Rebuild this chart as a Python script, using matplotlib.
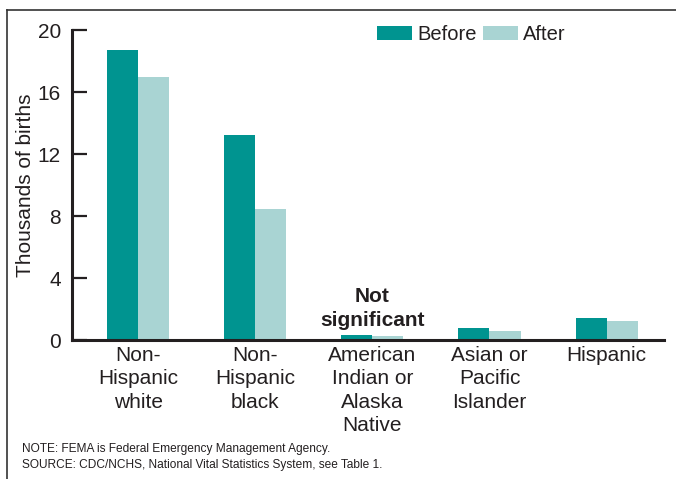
#Births before and after, by race and Hispanic origin

import matplotlib
matplotlib.use("Agg")
import matplotlib.pyplot as plt
from matplotlib.lines import Line2D
import numpy as np

#chart values
groups = ["Non-\nHispanic\nwhite", "Non-\nHispanic\nblack", "American\nIndian or\nAlaska\nNative",
          "Asian or\nPacific\nIslander", "Hispanic"]
before = [18.7, 13.2, 0.3, 0.77, 1.42]
after = [17.0, 8.45, 0.27, 0.58, 1.23]
yticks = [0, 4, 8, 12, 16, 20]

teal = "#009490"
light = "#a9d4d3"
ink = "#231f20"

plt.rcParams['font.family'] = ['Liberation Sans', 'DejaVu Sans']

fig = plt.figure(figsize=(6.76, 4.79), dpi=100)
ax = fig.add_axes([72/676, 1-340/479, (664-72)/676, (340-30)/479])

x = np.arange(len(groups))
w = 0.265
ax.bar(x - w/2, before, w, color=teal, label="Before")
ax.bar(x + w/2, after, w, color=light, label="After")

ax.set_xlim(-0.564, 4.49)
ax.set_ylim(0, 20)
ax.set_yticks(yticks)
ax.set_xticks(x)
ax.set_xticklabels(groups, fontsize=15, color=ink, linespacing=1.3)
ax.tick_params(axis='x', length=0, pad=4)
ax.tick_params(axis='y', direction='in', length=11, width=1.6, color=ink,
               labelsize=15, labelcolor=ink, pad=8)

for s in ['top', 'right']:
    ax.spines[s].set_visible(False)
for s in ['left', 'bottom']:
    ax.spines[s].set_linewidth(2.2)
    ax.spines[s].set_color(ink)

ax.set_ylabel("Thousands of births", fontsize=15, color=ink)
ax.yaxis.set_label_coords(-0.062, 0.5)

ax.text(2, 0.65, "Not\nsignificant", ha='center', va='bottom', fontsize=15,
        fontweight='bold', color=ink, linespacing=1.3)

ax.legend(ncol=2, loc='center left', bbox_to_anchor=(377/676, 1-34.5/479),
          bbox_transform=fig.transFigure, frameon=False, fontsize=14.5,
          handlelength=1.75, handleheight=0.72, handletextpad=0.25,
          columnspacing=0.3, borderpad=0, borderaxespad=0, labelcolor=ink)

#notes at the bottom
fig.text(22/676, 1-449/479, "NOTE: FEMA is Federal Emergency Management Agency.",
         fontsize=8.6, color=ink, va='center')
fig.text(22/676, 1-465/479, "SOURCE: CDC/NCHS, National Vital Statistics System, see Table 1.",
         fontsize=8.6, color=ink, va='center')

#frame lines (left and top)
fig.add_artist(Line2D([7/676, 7/676], [0, 1-10/479], transform=fig.transFigure,
                      color="#333333", lw=1.2))
fig.add_artist(Line2D([7/676, 1], [1-10/479, 1-10/479], transform=fig.transFigure,
                      color="#333333", lw=1.2))

fig.savefig("out.png", dpi=100)
